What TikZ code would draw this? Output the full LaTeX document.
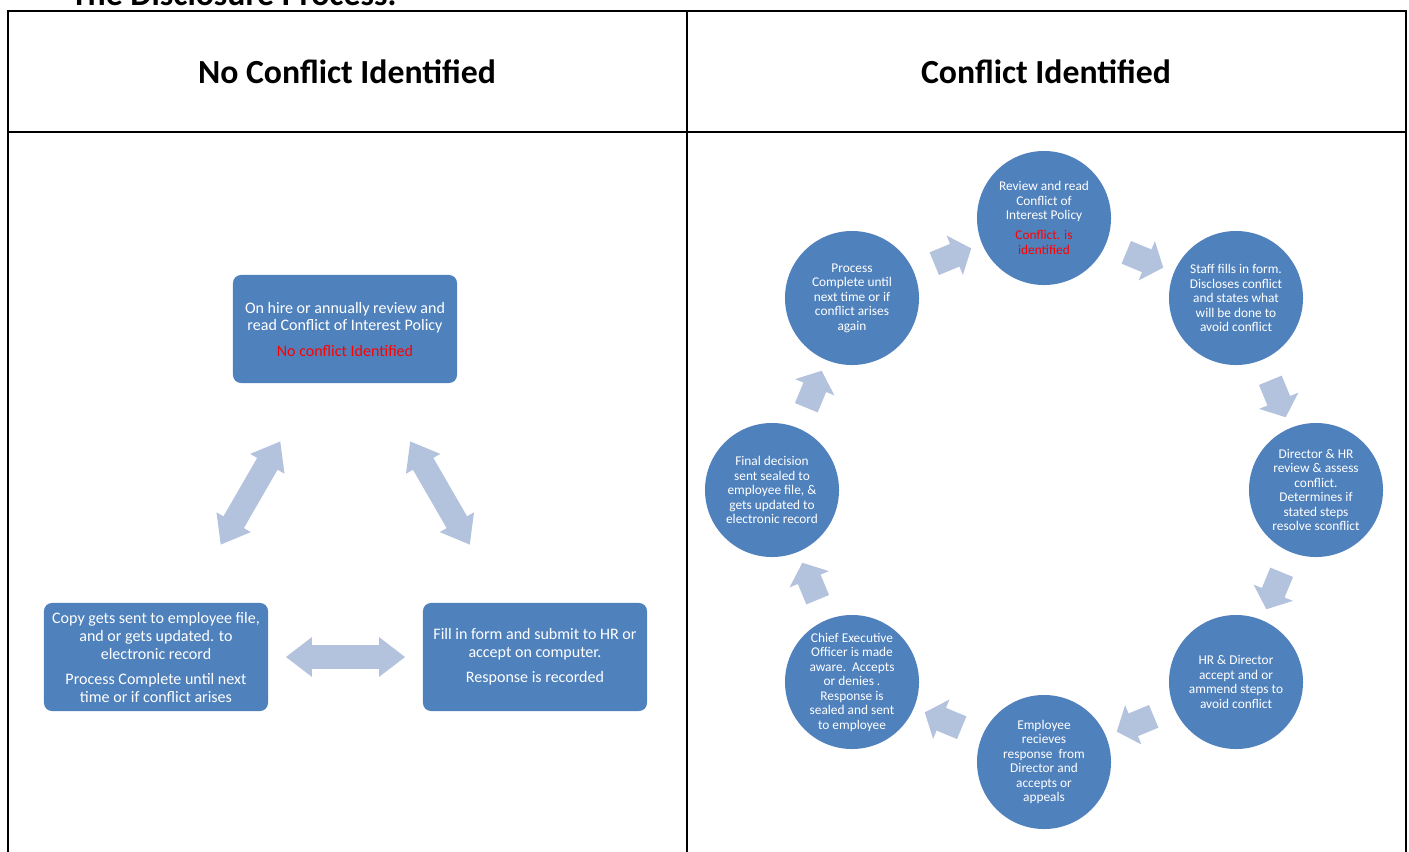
\documentclass[tikz,border=0pt]{standalone}
\usepackage{fontspec}
\setmainfont{Carlito}
\usepackage{xcolor}
\usepackage{tikz}
\usetikzlibrary{positioning,shapes.arrows,calc}
\definecolor{blue1}{HTML}{4F81BD}
\definecolor{pale1}{HTML}{B3C2DD}
\definecolor{red1}{HTML}{FF0000}

\begin{document}
\begin{tikzpicture}[
    x=0.025cm, y=-0.025cm,
    header/.style={font=\bfseries\fontsize{24}{28}\selectfont, anchor=base},
    stepbox/.style={rectangle, rounded corners=0.2cm, fill=blue1, text=white,
                    minimum width=5.6cm, minimum height=2.7cm, align=center,
                    inner sep=2pt, font=\fontsize{11.4}{12.8}\selectfont},
    stepcirc/.style={circle, fill=blue1, text=white, minimum size=3.35cm,
                     inner sep=0pt, align=center,
                     font=\fontsize{9.5}{10.3}\selectfont},
    dblarrow/.style={double arrow, fill=pale1, inner xsep=0pt,
                     inner ysep=0.2875cm,
                     minimum height=2.975cm,
                     double arrow head extend=0.2cm,
                     double arrow tip angle=75},
    cycarrow/.style={single arrow, fill=pale1, inner xsep=0pt,
                     inner ysep=0.3cm,
                     minimum height=1cm,
                     single arrow head extend=0.225cm,
                     single arrow tip angle=100},
]
\useasboundingbox (0,0) rectangle (1409,851);

% ── Title (cut off at the top) ──
\node[font=\bfseries\fontsize{24}{28}\selectfont, anchor=base west]
    (title) at (66,5) {The Disclosure Process:};

% ── Table ──
\draw[line width=1.5pt] (8,880) -- (8,11) -- (1406,11) -- (1406,880);
\draw[line width=1.5pt] (8,132) -- (1406,132);
\draw[line width=1.5pt] (687,11) -- (687,880);

\node[header] (hleft) at (347,83) {No Conflict Identified};
\node[header] (hright) at (1046,83) {Conflict Identified};

% ── No conflict ──
\node[stepbox] (review) at (345,329)
    {On hire or annually review and\\ read Conflict of Interest Policy\\[5pt]
     \textcolor{red1}{No conflict Identified}};
\node[stepbox] (copy) at (156,657)
    {Copy gets sent to employee file,\\ and or gets updated. to\\ electronic record\\[5pt]
     Process Complete until next\\ time or if conflict arises};
\node[stepbox] (fill) at (535,657)
    {Fill in form and submit to HR or\\ accept on computer.\\[5pt]
     Response is recorded};

\node[dblarrow, rotate=60] (a1) at ($(copy)!0.5!(review)$) {};
\node[dblarrow, rotate=-60] (a2) at ($(review)!0.5!(fill)$) {};
\node[dblarrow] (a3) at ($(copy)!0.5!(fill)$) {};

% ── Conflict identified ──
\node[stepcirc] (c1) at (1044,218)
    {Review and read\\ Conflict of\\ Interest Policy\\[4pt]
     \textcolor{red1}{Conflict. is}\\ \textcolor{red1}{identified}};
\node[stepcirc] (c2) at (1236,298)
    {Staff fills in form.\\ Discloses conflict\\ and states what\\ will be done to\\ avoid conflict};
\node[stepcirc] (c3) at (1316,490)
    {Director \& HR\\ review \& assess\\ conflict.\\ Determines if\\ stated steps\\ resolve sconflict};
\node[stepcirc] (c4) at (1236,682)
    {HR \& Director\\ accept and or\\ ammend steps to\\ avoid conflict};
\node[stepcirc] (c5) at (1044,762)
    {Employee\\ recieves\\ response\ \ from\\ Director and\\ accepts or\\ appeals};
\node[stepcirc] (c6) at (852,682)
    {Chief Executive\\ Officer is made\\ aware.\ \ Accepts\\ or denies .\\ Response is\\ sealed and sent\\ to employee};
\node[stepcirc] (c7) at (772,490)
    {Final decision\\ sent sealed to\\ employee file, \&\\ gets updated to\\ electronic record};
\node[stepcirc] (c8) at (852,298)
    {Process\\ Complete until\\ next time or if\\ conflict arises\\ again};

\foreach \from/\to/\ang in {1/2/-22.5, 2/3/-67.5, 3/4/-112.5, 4/5/-157.5,
                            5/6/157.5, 6/7/112.5, 7/8/67.5, 8/1/22.5}
    \node[cycarrow, rotate=\ang] (ar\from) at ($(c\from)!0.5!(c\to)$) {};

\end{tikzpicture}
\end{document}
